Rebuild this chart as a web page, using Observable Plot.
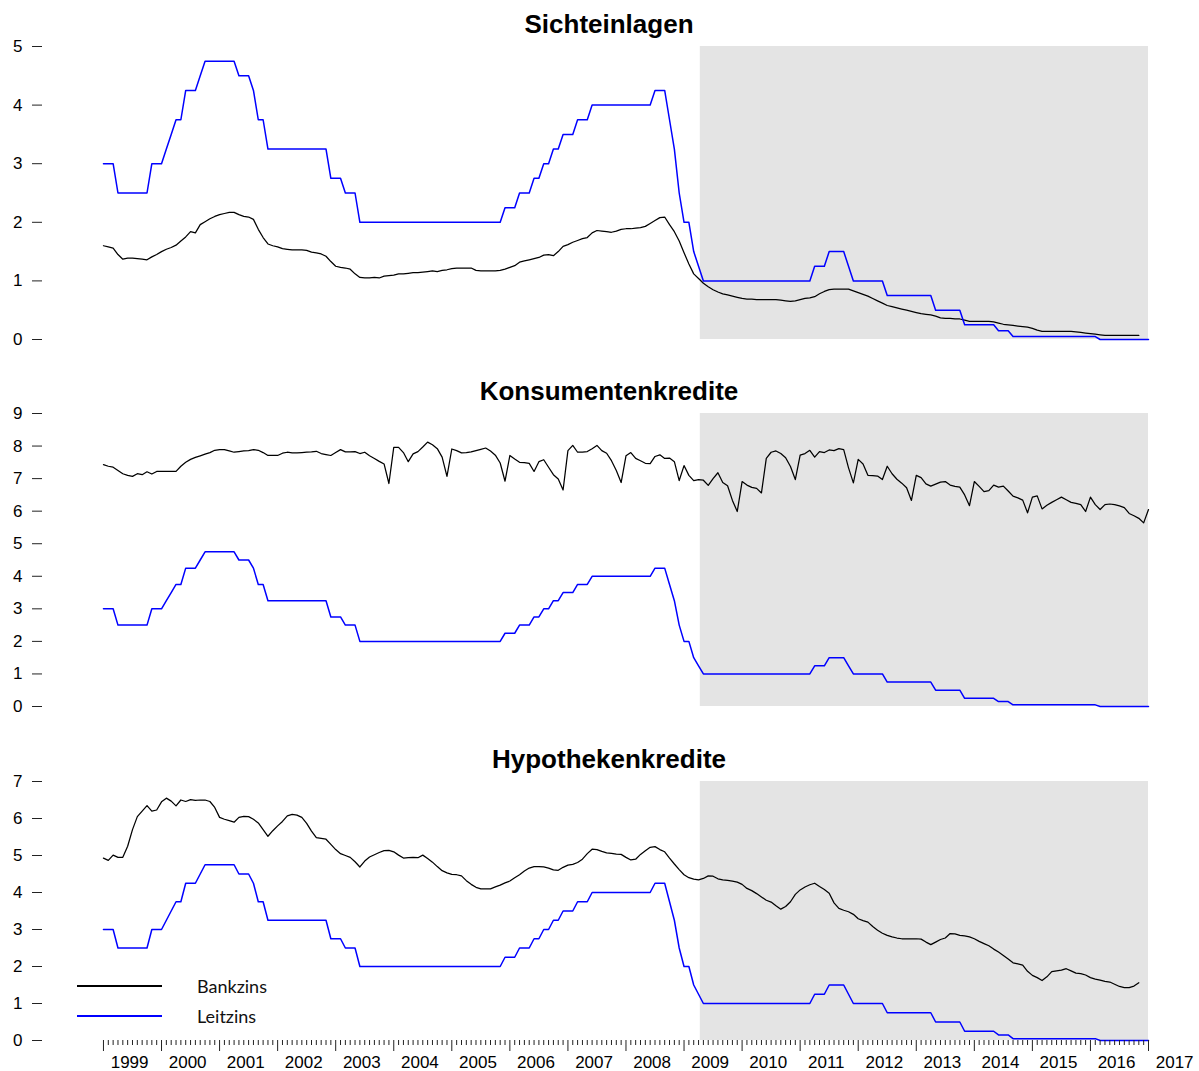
<!DOCTYPE html>
<html>
<head>
<meta charset="utf-8">
<script src="https://cdn.jsdelivr.net/npm/d3@7"></script>
<script src="https://cdn.jsdelivr.net/npm/@observablehq/plot@0.6"></script>
<style>
  html, body { margin: 0; padding: 0; background: #ffffff; }
  #chart { position: relative; width: 1199px; height: 1071px; overflow: hidden; background: #ffffff; }
  #chart svg { display: block; }
  .legend-line { position: absolute; left: 77px; width: 85px; height: 1.5px; }
  .legend-text { position: absolute; left: 197px; height: 22px; line-height: 22px; font-family: Lato, "Open Sans", sans-serif; font-size: 18px; color: #111; }
</style>
</head>
<body>
<div id="chart"></div>
<script>
// ---- data (monthly values, starting January 1999) ----
const startYear = 1999;

const leitzins = [
  3, 3, 3, 2.5, 2.5, 2.5, 2.5, 2.5, 2.5, 2.5, 3, 3,
  3, 3.25, 3.5, 3.75, 3.75, 4.25, 4.25, 4.25, 4.5, 4.75, 4.75, 4.75,
  4.75, 4.75, 4.75, 4.75, 4.5, 4.5, 4.5, 4.25, 3.75, 3.75, 3.25, 3.25,
  3.25, 3.25, 3.25, 3.25, 3.25, 3.25, 3.25, 3.25, 3.25, 3.25, 3.25, 2.75,
  2.75, 2.75, 2.5, 2.5, 2.5, 2, 2, 2, 2, 2, 2, 2,
  2, 2, 2, 2, 2, 2, 2, 2, 2, 2, 2, 2,
  2, 2, 2, 2, 2, 2, 2, 2, 2, 2, 2, 2.25,
  2.25, 2.25, 2.5, 2.5, 2.5, 2.75, 2.75, 3, 3, 3.25, 3.25, 3.5,
  3.5, 3.5, 3.75, 3.75, 3.75, 4, 4, 4, 4, 4, 4, 4,
  4, 4, 4, 4, 4, 4, 4.25, 4.25, 4.25, 3.75, 3.25, 2.5,
  2, 2, 1.5, 1.25, 1, 1, 1, 1, 1, 1, 1, 1,
  1, 1, 1, 1, 1, 1, 1, 1, 1, 1, 1, 1,
  1, 1, 1, 1.25, 1.25, 1.25, 1.5, 1.5, 1.5, 1.5, 1.25, 1,
  1, 1, 1, 1, 1, 1, 0.75, 0.75, 0.75, 0.75, 0.75, 0.75,
  0.75, 0.75, 0.75, 0.75, 0.5, 0.5, 0.5, 0.5, 0.5, 0.5, 0.25, 0.25,
  0.25, 0.25, 0.25, 0.25, 0.25, 0.15, 0.15, 0.15, 0.05, 0.05, 0.05, 0.05,
  0.05, 0.05, 0.05, 0.05, 0.05, 0.05, 0.05, 0.05, 0.05, 0.05, 0.05, 0.05,
  0.05, 0.05, 0, 0, 0, 0, 0, 0, 0, 0, 0, 0,
  0
];

const sichteinlagen = [
  1.60, 1.58, 1.56, 1.45, 1.37, 1.39, 1.39, 1.38, 1.37, 1.36, 1.41, 1.45,
  1.50, 1.54, 1.57, 1.61, 1.68, 1.75, 1.84, 1.82, 1.96, 2.01, 2.06, 2.10,
  2.13, 2.15, 2.17, 2.17, 2.13, 2.10, 2.09, 2.05, 1.88, 1.74, 1.63, 1.60,
  1.58, 1.55, 1.54, 1.53, 1.53, 1.53, 1.52, 1.49, 1.48, 1.46, 1.42, 1.33,
  1.25, 1.23, 1.22, 1.20, 1.12, 1.06, 1.05, 1.05, 1.06, 1.05, 1.08, 1.09,
  1.10, 1.12, 1.12, 1.13, 1.14, 1.14, 1.15, 1.16, 1.17, 1.16, 1.18, 1.19,
  1.21, 1.22, 1.22, 1.22, 1.22, 1.18, 1.17, 1.17, 1.17, 1.17, 1.18, 1.20,
  1.23, 1.26, 1.32, 1.34, 1.36, 1.38, 1.40, 1.44, 1.45, 1.43, 1.50, 1.59,
  1.62, 1.66, 1.69, 1.72, 1.74, 1.82, 1.86, 1.85, 1.84, 1.83, 1.85, 1.88,
  1.89, 1.89, 1.90, 1.91, 1.93, 1.98, 2.03, 2.08, 2.09, 1.96, 1.84, 1.68,
  1.48, 1.29, 1.12, 1.04, 0.96, 0.90, 0.85, 0.81, 0.78, 0.76, 0.74, 0.72,
  0.70, 0.69, 0.69, 0.68, 0.68, 0.68, 0.68, 0.68, 0.67, 0.66, 0.65, 0.66,
  0.68, 0.70, 0.71, 0.73, 0.78, 0.82, 0.85, 0.86, 0.86, 0.86, 0.86, 0.83,
  0.80, 0.77, 0.74, 0.70, 0.66, 0.62, 0.58, 0.56, 0.54, 0.52, 0.50, 0.48,
  0.46, 0.44, 0.43, 0.42, 0.40, 0.37, 0.36, 0.36, 0.35, 0.35, 0.33, 0.31,
  0.31, 0.31, 0.31, 0.31, 0.30, 0.28, 0.26, 0.25, 0.24, 0.23, 0.22, 0.21,
  0.19, 0.16, 0.14, 0.14, 0.14, 0.14, 0.14, 0.14, 0.14, 0.13, 0.12, 0.11,
  0.10, 0.09, 0.08, 0.07, 0.07, 0.07, 0.07, 0.07, 0.07, 0.07, 0.07
];

const konsumentenkredite = [
  7.43, 7.38, 7.35, 7.25, 7.15, 7.10, 7.07, 7.15, 7.12, 7.21, 7.14, 7.22,
  7.22, 7.22, 7.22, 7.22, 7.38, 7.50, 7.59, 7.65, 7.70, 7.75, 7.80, 7.87,
  7.89, 7.89, 7.85, 7.81, 7.83, 7.85, 7.86, 7.89, 7.87, 7.80, 7.71, 7.71,
  7.71, 7.78, 7.81, 7.79, 7.79, 7.80, 7.81, 7.82, 7.84, 7.77, 7.74, 7.71,
  7.80, 7.89, 7.82, 7.82, 7.83, 7.77, 7.81, 7.70, 7.62, 7.53, 7.45, 6.85,
  7.96, 7.96, 7.80, 7.52, 7.76, 7.83, 7.97, 8.12, 8.04, 7.92, 7.66, 7.07,
  7.91, 7.86, 7.79, 7.80, 7.82, 7.86, 7.90, 7.94, 7.85, 7.72, 7.48, 6.92,
  7.71, 7.60, 7.50, 7.49, 7.47, 7.22, 7.52, 7.58, 7.35, 7.12, 6.99, 6.65,
  7.86, 8.02, 7.81, 7.81, 7.83, 7.92, 8.02, 7.86, 7.78, 7.55, 7.25, 6.88,
  7.70, 7.80, 7.62, 7.55, 7.47, 7.46, 7.68, 7.73, 7.62, 7.63, 7.52, 6.94,
  7.40, 7.10, 6.94, 6.97, 6.95, 6.79, 7.00, 7.18, 6.88, 6.78, 6.33, 5.99,
  6.91, 6.80, 6.73, 6.70, 6.56, 7.62, 7.81, 7.85, 7.77, 7.64, 7.37, 6.97,
  7.72, 7.77, 7.87, 7.66, 7.83, 7.80, 7.88, 7.86, 7.92, 7.89, 7.33, 6.87,
  7.59, 7.45, 7.10, 7.09, 7.08, 6.97, 7.38, 7.15, 6.98, 6.86, 6.72, 6.33,
  7.10, 7.03, 6.84, 6.77, 6.83, 6.89, 6.91, 6.80, 6.76, 6.74, 6.50, 6.17,
  6.91, 6.76, 6.60, 6.63, 6.80, 6.74, 6.77, 6.62, 6.46, 6.41, 6.34, 5.95,
  6.43, 6.47, 6.07, 6.18, 6.27, 6.35, 6.43, 6.35, 6.27, 6.24, 6.20, 5.99,
  6.43, 6.20, 6.05, 6.20, 6.22, 6.20, 6.16, 6.11, 5.93, 5.86, 5.78, 5.64,
  6.05
];

const hypothekenkredite = [
  4.93, 4.87, 5.01, 4.95, 4.95, 5.25, 5.70, 6.05, 6.20, 6.35, 6.20, 6.23,
  6.45, 6.55, 6.47, 6.34, 6.50, 6.46, 6.51, 6.49, 6.50, 6.50, 6.46, 6.30,
  6.03, 5.98, 5.94, 5.90, 6.03, 6.06, 6.05, 5.98, 5.88, 5.70, 5.52, 5.67,
  5.80, 5.92, 6.07, 6.11, 6.09, 6.03, 5.87, 5.66, 5.48, 5.46, 5.44, 5.30,
  5.16, 5.05, 5.00, 4.95, 4.83, 4.69, 4.85, 4.96, 5.02, 5.08, 5.13, 5.14,
  5.10, 5.01, 4.93, 4.94, 4.95, 4.94, 5.01, 4.92, 4.82, 4.70, 4.59, 4.53,
  4.49, 4.48, 4.45, 4.32, 4.22, 4.14, 4.10, 4.10, 4.10, 4.15, 4.20, 4.26,
  4.31, 4.40, 4.48, 4.58, 4.66, 4.70, 4.70, 4.69, 4.66, 4.61, 4.60, 4.68,
  4.74, 4.76, 4.81, 4.90, 5.05, 5.17, 5.16, 5.11, 5.07, 5.06, 5.04, 5.03,
  4.95, 4.88, 4.90, 5.03, 5.13, 5.22, 5.24, 5.16, 5.10, 4.93, 4.77, 4.62,
  4.48, 4.40, 4.36, 4.34, 4.38, 4.45, 4.44, 4.37, 4.34, 4.33, 4.31, 4.28,
  4.22, 4.11, 4.05, 3.97, 3.88, 3.79, 3.74, 3.64, 3.55, 3.62, 3.75, 3.95,
  4.07, 4.15, 4.21, 4.25, 4.16, 4.08, 3.98, 3.72, 3.57, 3.52, 3.48, 3.41,
  3.29, 3.24, 3.20, 3.08, 2.98, 2.90, 2.84, 2.80, 2.77, 2.75, 2.75, 2.75,
  2.75, 2.74, 2.66, 2.59, 2.66, 2.73, 2.77, 2.89, 2.88, 2.84, 2.83, 2.80,
  2.75, 2.68, 2.62, 2.56, 2.47, 2.39, 2.30, 2.20, 2.10, 2.07, 2.04, 1.87,
  1.76, 1.70, 1.62, 1.72, 1.86, 1.88, 1.90, 1.94, 1.88, 1.82, 1.81, 1.77,
  1.70, 1.66, 1.63, 1.60, 1.58, 1.52, 1.46, 1.43, 1.43, 1.47, 1.56
];

const titles = ["Sichteinlagen", "Konsumentenkredite", "Hypothekenkredite"];
const yMaxima = [5, 9, 7];
const yearTicks = [1999, 2000, 2001, 2002, 2003, 2004, 2005, 2006, 2007, 2008,
                   2009, 2010, 2011, 2012, 2013, 2014, 2015, 2016, 2017];
const shadeFrom = 2009.28;   // shaded period (low-rate phase)
const shadeTo = 2017.0;
const legendLabels = ["Bankzins", "Leitzins"];

// ---- helpers ----
const toSeries = (values) => values.map((v, i) => ({date: startYear + i / 12, value: v}));
const minorTicks = [];
for (let i = 0; i < yearTicks.length - 1; i++) {
  for (let m = 1; m < 12; m++) minorTicks.push(yearTicks[i] + m / 12);
}

const BLACK = "#000000";
const BLUE = "#0000ff";

const layout = [
  {height: 360, marginTop: 46, marginBottom: 21, xAxis: false},
  {height: 368, marginTop: 53, marginBottom: 22, xAxis: false},
  {height: 343, marginTop: 53, marginBottom: 31, xAxis: true}
];
const bankSeries = [sichteinlagen, konsumentenkredite, hypothekenkredite];

const chart = document.getElementById("chart");

layout.forEach((L, k) => {
  const yMax = yMaxima[k];
  const marks = [
    Plot.rect([{from: shadeFrom, to: shadeTo, lo: 0, hi: yMax}],
      {x1: "from", x2: "to", y1: "lo", y2: "hi", fill: "#e4e4e4"}),
    Plot.axisY({ticks: d3.range(0, yMax + 1), tickSize: 10, tickPadding: 10, label: null,
      stroke: "#222", tickFormat: d => String(d)}),
    Plot.line(toSeries(bankSeries[k]), {x: "date", y: "value", stroke: BLACK, strokeWidth: 1.25}),
    Plot.line(toSeries(leitzins), {x: "date", y: "value", stroke: BLUE, strokeWidth: 1.5}),
    Plot.text([titles[k]], {frameAnchor: "top", dy: -13.5, lineAnchor: "bottom",
      fontSize: 26, fontWeight: "bold", fill: "#000"})
  ];
  if (L.xAxis) {
    marks.push(
      Plot.axisX({ticks: minorTicks, tickSize: 5, tickFormat: () => "", label: null, stroke: "#222"}),
      Plot.axisX({ticks: yearTicks, tickSize: 11, tickFormat: () => "", label: null, stroke: "#222"}),
      Plot.axisX({ticks: yearTicks.map(y => y + 0.45), tickSize: 0, tickPadding: 15,
        tickFormat: d => String(Math.round(d - 0.45)), label: null})
    );
  }
  const svg = Plot.plot({
    width: 1199,
    height: L.height,
    marginTop: L.marginTop,
    marginBottom: L.marginBottom,
    marginLeft: 42,
    marginRight: 24,
    x: {type: "linear", domain: [1997.95, 2017.465], axis: L.xAxis ? undefined : null},
    y: {type: "linear", domain: [0, yMax]},
    style: {fontFamily: "'Liberation Sans', Arial, sans-serif", fontSize: "17px", color: "#000", background: "#fff", overflow: "visible"},
    marks
  });
  chart.appendChild(svg);
});

// ---- legend (inside the bottom panel, lower left) ----
const legendColors = [BLACK, BLUE];
const legendCenters = [986, 1016];
legendLabels.forEach((lab, i) => {
  const line = document.createElement("div");
  line.className = "legend-line";
  line.style.top = (legendCenters[i] - 0.75) + "px";
  line.style.background = legendColors[i];
  chart.appendChild(line);
  const txt = document.createElement("div");
  txt.className = "legend-text";
  txt.style.top = (legendCenters[i] - 11) + "px";
  txt.textContent = lab;
  chart.appendChild(txt);
});
</script>
</body>
</html>
